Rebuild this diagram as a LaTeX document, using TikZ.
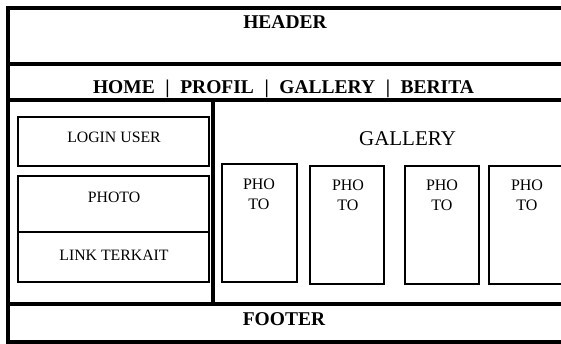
\documentclass[tikz,border=0pt]{standalone}
\usepackage{fontspec}
\setmainfont{Liberation Serif}
\usetikzlibrary{fit}
\begin{document}
\begin{tikzpicture}[x=1pt,y=-1pt,
  region/.style={draw=black, line width=4pt, inner sep=0pt, outer sep=0pt},
  thinbox/.style={draw=black, line width=1.8pt, inner sep=0pt, outer sep=0pt},
  boldlabel/.style={font=\fontsize{19.5}{23}\selectfont\bfseries, inner sep=0pt, anchor=base},
  sidelabel/.style={font=\fontsize{15.8}{19}\selectfont, inner sep=0pt, anchor=base},
  photolabel/.style={font=\fontsize{16}{20}\selectfont, inner sep=0pt, anchor=north, align=center},
  gallerylabel/.style={font=\fontsize{21}{25}\selectfont, inner sep=0pt, anchor=base}]
\clip (0,0) rectangle (561,344);
\useasboundingbox (0,0) rectangle (561,344);
\fill[white] (0,0) rectangle (561,344);
% main regions
\node[region, fit={(8,8) (580,64)}] (header) {};
\node[region, fit={(8,64) (580,100.5)}] (nav) {};
\node[region, fit={(8,100.5) (213,304)}] (leftcol) {};
\node[region, fit={(213,100.5) (580,304)}] (rightcol) {};
\node[region, fit={(8,304) (580,342)}] (footer) {};
% labels of regions
\node[boldlabel] (headertext) at (285,29) {HEADER};
\node[boldlabel] (navtext) at (283.5,94) {HOME\hspace{10.6pt}|\hspace{10.6pt}PROFIL\hspace{10.6pt}|\hspace{10.6pt}GALLERY\hspace{10.6pt}|\hspace{10.6pt}BERITA};
\node[boldlabel] (footertext) at (284,325) {FOOTER};
% left column boxes
\node[thinbox, fit={(18,117) (209,166)}] (login) {};
\node[thinbox, fit={(18,176) (209,232)}] (photo) {};
\node[thinbox, fit={(18,232) (209,282)}] (link) {};
\node[sidelabel] (logintext) at (114,142.3) {LOGIN USER};
\node[sidelabel] (phototext) at (114,202.3) {PHOTO};
\node[sidelabel] (linktext) at (114,260) {LINK TERKAIT};
% gallery
\node[gallerylabel] (gallerytext) at (407.5,145.7) {GALLERY};
\node[thinbox, fit={(222,164) (297,282)}] (p1) {};
\node[thinbox, fit={(310,166) (384,284)}] (p2) {};
\node[thinbox, fit={(405,166) (479,284)}] (p3) {};
\node[thinbox, fit={(489,166) (566,284)}] (p4) {};
\node[photolabel] (p1text) at (259,178.5) {PHO\\TO};
\node[photolabel] (p2text) at (348,180) {PHO\\TO};
\node[photolabel] (p3text) at (442,180) {PHO\\TO};
\node[photolabel] (p4text) at (527,180) {PHO\\TO};
\end{tikzpicture}
\end{document}
